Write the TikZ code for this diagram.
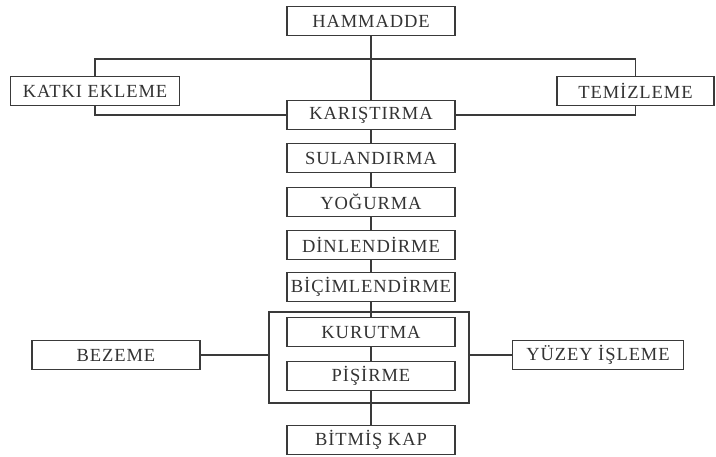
\documentclass[tikz,border=0pt]{standalone}
\usepackage{fontspec}
\setmainfont{Liberation Serif}[LetterSpace=5]
\usetikzlibrary{positioning}
\definecolor{StepLine}{HTML}{3A3A3A}
\tikzset{
  stepbox/.style={draw=StepLine, fill=white, line width=1.2pt, minimum width=168pt,
                  minimum height=29pt, inner sep=1pt, text=black!80,
                  font=\fontsize{18.5}{20}\selectfont},
  groupbox/.style={draw=StepLine, line width=1.2pt, minimum width=200pt, minimum height=91pt},
  link/.style={draw=StepLine, line width=1.2pt},
}

\begin{document}
\begin{tikzpicture}[x=1pt,y=1pt]
    \useasboundingbox (0,0) rectangle (716,-457);
    \node[groupbox] (firing) at (369,-357.5) {};
    \node[stepbox] (hammadde) at (371,-21) {HAMMADDE};
    \node[stepbox,minimum width=169pt] (katki) at (95,-91) {KATKI EKLEME};
    \node[stepbox,minimum width=157pt] (temiz) at (635.5,-91) {TEMİZLEME};
    \node[stepbox] (karis) at (371,-115) {KARIŞTIRMA};
    \node[stepbox] (sulan) at (371,-158) {SULANDIRMA};
    \node[stepbox] (yogur) at (371,-202) {YOĞURMA};
    \node[stepbox] (dinlen) at (371,-245) {DİNLENDİRME};
    \node[stepbox] (bicim) at (371,-287) {BİÇİMLENDİRME};
    \node[stepbox] (kurut) at (371,-332) {KURUTMA};
    \node[stepbox] (pisir) at (371,-376) {PİŞİRME};
    \node[stepbox] (bezeme) at (116,-355) {BEZEME};
    \node[stepbox,minimum width=171pt] (yuzey) at (598,-355) {YÜZEY İŞLEME};
    \node[stepbox] (bitmis) at (371,-440) {BİTMİŞ KAP};
    \coordinate (split) at (371,-59);
    \draw[link] (katki.north) |- (split) -| (temiz.north);
    \draw[link] (hammadde) -- (karis);
    \draw[link] (katki.south) |- (karis.west);
    \draw[link] (temiz.south) |- (karis.east);
    \draw[link] (karis) -- (sulan);
    \draw[link] (sulan) -- (yogur);
    \draw[link] (yogur) -- (dinlen);
    \draw[link] (dinlen) -- (bicim);
    \draw[link] (bicim) -- (kurut);
    \draw[link] (kurut) -- (pisir);
    \draw[link] (pisir) -- (bitmis);
    \draw[link] (bezeme.east) -- (bezeme.east -| firing.west);
    \draw[link] (yuzey.west) -- (yuzey.west -| firing.east);
  \end{tikzpicture}
\end{document}
